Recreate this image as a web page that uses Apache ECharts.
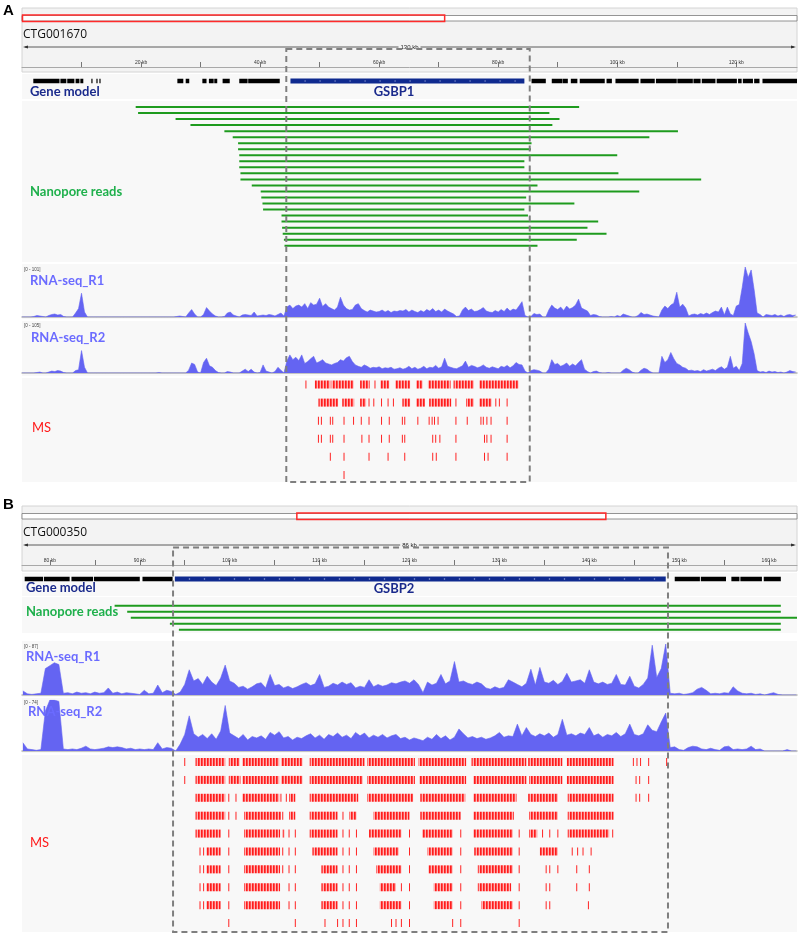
<!DOCTYPE html>
<html><head><meta charset="utf-8">
<script src="https://cdn.jsdelivr.net/npm/echarts@6/dist/echarts.min.js"></script>
<style>html,body{margin:0;padding:0;background:#fff}#c{width:800px;height:935px}</style>
</head><body><div id="c"></div>
<script>
// ================= DATA =================
const contigA = 'CTG001670', contigB = 'CTG000350';
const geneNameA = 'GSBP1', geneNameB = 'GSBP2';
const spanLabelA = '130 kb', spanLabelB = '86 kb';
const rangeA = [0, 130.2];
const rangeB = [76.9, 163.1];
const ideoA = [0, 0.546];
const ideoB = [0.354, 0.754];
const tickValsA = [10,20,30,40,50,60,70,80,90,100,110,120];
const labelValsA = [20,40,60,80,100,120];
const tickValsB = [80,85,90,95,100,105,110,115,120,125,130,135,140,145,150,155,160];
const labelValsB = [80,90,100,110,120,130,140,150,160];
const boxA = [44.4, 85.3];
const boxB = [93.7, 148.75];
const geneSpanA = [45.1, 84.4];
const geneSpanB = [93.9, 148.5];
const geneBlocksA = [[1.9,6.3],[6.45,7.45],[7.6,8.8],[9.0,9.65],[9.8,10.3],[11.65,11.85],[12.5,12.7],[13.0,13.2],
 [26.1,27.1],[27.5,28.1],[30.3,31.0],[31.4,32.2],[32.3,32.8],[33.7,34.9],[36.5,37.9],[38.0,43.3],
 [85.6,88.0],[89.0,90.8],[90.85,91.7],[92.2,93.3],[93.7,97.9],[98.2,99.1],[99.7,103.6],[103.9,106.3],
 [106.5,110.0],[110.1,112.7],[112.8,114.0],[114.2,116.5],[116.7,120.1],[120.3,120.9],[121.1,122.8],[123.0,123.9],[124.4,130.2]];
const geneBlocksB = [[77.2,79.25],[79.35,82.2],[82.4,84.8],[84.9,90.0],[90.3,93.65],
 [149.5,152.3],[152.4,155.2],[155.8,156.7],[156.8,159.2],[159.4,161.3]];
const readStartA = [19.1,19.5,25.8,28.3,34.0,35.4,36.3,36.3,36.5,36.5,36.5,36.7,36.7,38.6,40.1,40.2,40.4,40.5,43.6,43.6,43.7,43.8,44.0,44.1];
const readEndA   = [93.6,88.6,90.3,89.1,110.2,105.4,85.6,85.5,100.0,84.4,84.4,100.2,114.1,86.6,103.7,84.7,92.8,84.4,85.0,96.8,95.0,98.2,93.2,86.6];
const readStartB = [87.2,88.6,89.0,93.35,94.35];
const readEndB   = [161.3,161.3,163.1,161.3,161.3];
const covMaxA = [101, 105];
const covMaxB = [87, 74];
const covStartA = 0, covStartB = 77, covStep = 0.5;
const covA_R1 = [
 0,0,0,0,1,3,2,1,0,3,  5,6,4,5,1,0,0,0,8,17,  48,10,0,0,0,0,0,0,0,0,  0,0,0,0,0,0,0,0,0,0,
 0,0,0,0,0,0,0,0,0,0,  0,0,1,2,1,0,8,15,6,0,  0,5,19,12,6,2,0,0,1,8,  10,4,2,0,4,5,4,3,10,2,
 3,4,3,5,4,2,5,8,2,20,  24,17,22,24,20,27,17,29,24,26,  38,21,27,20,17,14,20,40,24,17,  14,15,24,27,17,13,10,14,12,10,
 11,14,10,13,9,12,11,13,12,15,  10,14,11,9,13,10,15,12,17,11,  14,10,16,12,9,6,1,2,14,20,  13,16,11,12,15,19,12,10,9,13,
 10,15,11,18,12,16,14,22,31,3,  0,1,7,5,6,0,0,14,24,18,  15,20,13,22,16,19,24,36,18,15,  12,3,5,4,1,0,0,0,1,0,
 3,1,6,4,2,0,0,3,9,5,  6,4,2,1,0,14,22,17,24,28,  50,20,26,18,2,5,6,4,7,5,  8,5,9,12,10,20,4,20,6,3,
 22,25,60,101,80,95,55,8,5,0,  5,4,3,5,2,4,1,4,5,3,  4];
const covA_R2 = [
 0,0,0,0,0,1,2,0,0,2,  4,3,5,4,1,0,0,0,5,7,  47,12,0,0,0,0,0,0,0,0,  0,0,0,0,0,0,0,0,0,0,
 0,0,0,0,0,0,1,0,0,0,  0,0,0,0,0,0,6,21,18,2,  0,22,31,15,12,5,1,0,0,3,  2,0,0,0,4,8,3,8,2,0,
 1,17,4,2,0,3,12,6,0,25,  38,28,33,26,38,20,24,30,35,21,  24,28,21,19,17,20,22,28,25,32,  35,24,17,14,12,17,14,10,12,11,
 13,9,11,10,12,8,9,11,8,10,  14,9,12,8,10,14,9,12,11,16,  10,13,31,14,12,10,9,12,15,25,  12,16,14,11,13,17,12,10,13,11,
 9,14,12,16,11,15,22,18,17,4,  0,5,7,6,4,0,0,8,28,18,  20,14,17,21,14,19,15,22,28,8,  3,0,3,4,1,0,0,1,0,0,
 0,0,6,10,7,2,0,0,6,10,  8,3,0,0,0,35,22,28,43,30,  20,17,12,10,5,6,4,5,3,7,  4,6,8,5,10,13,8,12,35,10,
 14,5,20,105,84,66,40,5,2,3,  1,4,2,3,1,2,0,2,5,3,  2];
const covB_R1 = [
 7,2,1,2,3,45,50,55,52,3,  4,2,5,3,4,2,5,3,4,12,  3,5,2,4,3,2,1,8,2,3,  17,4,8,6,1,5,18,43,24,28,
 18,32,22,16,29,51,24,20,13,15,  10,14,19,21,12,35,16,18,12,15,  11,14,18,21,16,19,35,13,15,20,  17,22,18,21,12,15,13,26,14,18,
 15,17,21,19,22,24,20,26,18,4,  22,17,20,35,19,24,57,22,24,20,  18,22,19,12,10,14,11,13,26,22,  18,14,20,44,17,47,22,20,25,18,
 23,37,22,24,26,20,43,22,19,22,  18,20,35,18,17,32,15,12,18,29,  85,30,45,87,3,2,3,1,2,4,  10,13,8,2,3,2,4,3,14,7,
 3,2,3,1,2,0,2,4,1,0,  0,0,0];
const covB_R2 = [
 12,3,2,1,2,58,74,74,72,3,  2,3,2,4,7,3,2,3,4,6,  5,6,5,3,4,2,3,2,3,2,  12,3,5,4,0,10,24,51,25,20,
 24,18,25,17,29,66,26,22,18,24,  16,21,19,22,17,27,23,28,19,21,  16,20,18,22,25,19,23,17,24,21,  26,20,23,18,27,22,26,19,23,20,
 24,19,22,24,18,20,16,19,17,15,  20,17,24,18,22,16,20,32,25,19,  21,18,20,17,19,22,27,20,22,21,  39,22,34,24,21,25,22,26,20,24,
 46,23,25,22,26,24,34,22,25,20,  24,22,27,21,25,39,24,22,25,38,  30,28,42,55,5,6,2,1,5,7,  6,3,2,4,2,1,6,7,2,3,
 2,3,7,2,3,0,0,0,0,0,  2,0,0];
const msRowsA = [
 [47.7,[49.2,51.8],[52.0,55.7],[56.8,58.4],59.3,[60.2,61.7],[62.7,65.2],[66.2,67.3],[68.2,72.0],[72.5,75.9],[76.8,83.4]],
 [[49.8,53.1],[53.8,55.8],[56.8,57.8],58.3,59.1,60.4,61.5,62.4,[63.9,65.2],[66.2,67.7],[68.4,72.1],72.9,[74.6,75.9],[76.8,78.9],79.6,80.2,81.5],
 [49.8,50.3,51.8,52.2,54.1,55.7,57.0,58.3,60.4,61.7,63.9,64.3,66.5,68.4,68.9,69.3,69.9,72.9,74.8,77.1,77.5,78.1,78.8,81.5],
 [49.8,50.3,51.8,52.2,54.1,57.1,58.3,60.4,61.7,63.9,64.3,69.0,69.5,70.2,72.9,77.7,78.1,78.8,81.5],
 [51.8,54.1,58.3,61.5,64.3,69.0,69.6,72.9,77.7,78.3,81.5],
 [54.1]
];
const msRowsB = [
 [95.0,[96.2,99.5],[99.9,101.1],[101.4,105.5],[105.7,108.1],[108.9,115.0],[115.3,120.6],[121.0,126.3],[126.9,133.0],[133.2,137.0],[137.5,142.7],144.9,145.3,145.7,146.6,148.6],
 [95.0,[96.2,99.5],[99.9,101.2],[101.4,105.5],[105.7,108.1],[108.9,114.8],[115.3,120.6],[121.1,126.3],[127.1,133.0],[133.3,137.0],[137.5,142.7],145.2,145.6,146.6],
 [[96.2,99.5],99.9,100.7,[101.4,105.5],105.7,106.3,[106.6,107.3],[108.9,114.3],[115.3,120.4],[121.2,126.2],[127.1,131.9],[133.2,136.5],[137.6,142.7],145.2,145.6,146.6],
 [[96.2,99.5],99.9,100.7,[101.6,105.7],105.9,[106.6,107.3],[108.9,112.0],112.6,[113.3,114.1],[116.0,120.0],[121.2,125.7],[127.1,131.6],[133.3,136.5],[137.6,142.7]],
 [[96.2,99.0],99.9,[101.6,105.6],[105.9,106.1],106.6,107.3,[108.9,112.0],112.6,113.3,114.1,[115.5,119.1],120.0,[121.4,124.8],125.7,[127.1,131.5],132.2,[133.3,134.2],134.8,135.6,136.5,[137.6,142.2],142.6],
 [96.7,97.1,[97.4,99.0],99.9,[101.6,105.6],105.9,106.6,107.3,[109.2,112.0],112.6,113.3,114.1,[116.0,118.8],120.0,[122.0,124.8],125.7,[127.2,131.5],132.2,[134.5,136.5],138.1,138.7,139.3,140.2],
 [96.7,97.1,[97.4,99.0],99.9,[101.6,105.6],105.9,106.6,107.3,[110.2,112.0],112.6,113.3,114.1,[116.3,119.1],120.0,[122.1,124.8],125.7,[127.6,131.5],132.2,135.2,135.6,136.5,138.6,140.0],
 [96.7,97.1,[97.4,99.0],99.9,[101.6,105.6],106.6,107.3,[110.2,112.0],112.6,113.3,114.1,[116.7,118.5],119.1,120.0,[122.7,124.8],125.7,[127.6,131.3],132.2,135.2,135.6,138.6,140.0],
 [96.7,97.1,[97.4,99.0],99.9,[101.6,105.6],106.6,107.3,[110.2,112.0],112.6,113.3,114.1,[116.7,119.1],120.0,[122.7,124.8],125.7,[128.0,131.5],132.2,135.2,135.6,139.9],
 [99.9,107.3,110.6,112.0,112.6,113.3,114.1,118.0,118.5,119.1,120.0,124.8,125.7,132.2]
];

// ================= BUILD =================
const COL = {navy:'#1a2a8c', gene:'#0f2a8f', green:'#1e9b1e', greenText:'#1fb04c', cov:'#6464f2', covText:'#6b6bff', red:'#ff2424', box:'#7f7f7f', bg:'#f8f8f8', head:'#f3f3f3'};
const chart = echarts.init(document.getElementById('c'), null, {renderer:'canvas'});

const layout = [
 {top:67,height:1},{top:76,height:10},{top:101,height:150.75},{top:267,height:50},{top:323,height:50},{top:378,height:104},
 {top:565,height:1},{top:574,height:10},{top:599,height:33},{top:644,height:51},{top:700,height:51},{top:756,height:176}
];
const grids = layout.map(g => Object.assign({left:22, right:3, show:false, containLabel:false, outerBoundsMode:'none'}, g));

function hiddenX(i, range){ return {gridIndex:i, type:'value', min:range[0], max:range[1], show:false, splitLine:{show:false}}; }
function baseX(i, range){ return {gridIndex:i, type:'value', min:range[0], max:range[1], axisLine:{show:true, onZero:false, lineStyle:{color:'#b4b4b4', width:1.5}}, axisTick:{show:false}, axisLabel:{show:false}, splitLine:{show:false}}; }
function rulerX(i, range, ticks, labels){ return {gridIndex:i, type:'value', min:range[0], max:range[1], position:'top',
  axisLine:{show:true, onZero:false, lineStyle:{color:'#a8a8a8', width:1}},
  axisTick:{show:true, inside:false, length:5, customValues:ticks, lineStyle:{color:'#555', width:0.8}},
  axisLabel:{show:true, customValues:labels, formatter:v => v + ' kb', fontSize:5, color:'#333', margin:2, fontFamily:'Liberation Sans'},
  splitLine:{show:false}}; }
const xAxes = [
 rulerX(0, rangeA, tickValsA, labelValsA), hiddenX(1, rangeA), hiddenX(2, rangeA), baseX(3, rangeA), baseX(4, rangeA), hiddenX(5, rangeA),
 rulerX(6, rangeB, tickValsB, labelValsB), hiddenX(7, rangeB), hiddenX(8, rangeB), baseX(9, rangeB), baseX(10, rangeB), hiddenX(11, rangeB)
];
function yA(i, min, max, inv){ return {gridIndex:i, type:'value', min:min, max:max, inverse:!!inv, show:false, splitLine:{show:false}}; }
const yAxes = [
 yA(0,0,1), yA(1,-1,1), yA(2,-1,24,true), yA(3,0,covMaxA[0]), yA(4,0,covMaxA[1]), yA(5,-0.36,5.39,true),
 yA(6,0,1), yA(7,-1,1), yA(8,-1.12,4.38,true), yA(9,0,covMaxB[0]), yA(10,0,covMaxB[1]), yA(11,-0.335,9.5,true)
];

// stripe pattern for dense peptide clusters
const pc = document.createElement('canvas'); pc.width = 3; pc.height = 10;
const pctx = pc.getContext('2d');
pctx.fillStyle = '#ff1c1c'; pctx.fillRect(0,0,1,10);
pctx.fillStyle = '#ff4d4d'; pctx.fillRect(1,0,1,10);
pctx.fillStyle = '#ffb4b4'; pctx.fillRect(2,0,1,10);
const stripe = {image: pc, repeat: 'repeat'};

function geneData(blocks, span){ const d = blocks.map(b => [b[0], b[1], 0]); d.push([span[0], span[1], 1]); return d; }
function geneRender(params, api){
  const s = api.value(0), e = api.value(1), t = api.value(2);
  const p1 = api.coord([s, 0]), p2 = api.coord([e, 0]);
  const h = t === 1 ? 5 : 4.5;
  const rect = {type:'rect', shape:{x:p1[0], y:p1[1]-h/2, width:Math.max(1, p2[0]-p1[0]), height:h}, style:{fill: t === 1 ? COL.gene : '#000'}};
  if (t !== 1) return rect;
  const ch = [rect];
  for (let x = p1[0] + 14; x < p2[0] - 4; x += 15) ch.push({type:'rect', shape:{x:x, y:p1[1]-0.6, width:1.3, height:1.2}, style:{fill:'#9aa8dc'}});
  return {type:'group', children:ch};
}
function readData(st, en){ return st.map((s, i) => [s, en[i], i]); }
function readRender(params, api){
  const p1 = api.coord([api.value(0), api.value(2)]), p2 = api.coord([api.value(1), api.value(2)]);
  return {type:'line', shape:{x1:p1[0], y1:p1[1], x2:p2[0], y2:p2[1]}, style:{stroke:COL.green, lineWidth:2}};
}
function msData(rows){ const d = []; rows.forEach((r, i) => r.forEach(v => { if (Array.isArray(v)) d.push([v[0], v[1], i]); else d.push([v, v, i]); })); return d; }
function msRender(params, api){
  const s = api.value(0), e = api.value(1), r = api.value(2);
  const p1 = api.coord([s, r]), p2 = api.coord([e, r]);
  const w = p2[0] - p1[0];
  if (w < 1.5) return {type:'rect', shape:{x:p1[0]-0.5, y:p1[1]-4, width:1, height:8}, style:{fill:COL.red}};
  return {type:'rect', shape:{x:p1[0], y:p1[1]-4, width:w, height:8}, style:{fill:stripe}};
}
function cov(arr, start){ return arr.map((v, i) => [start + i*covStep, v]); }
function covSeries(idx, arr, start){ return {type:'line', xAxisIndex:idx, yAxisIndex:idx, data:cov(arr, start), symbol:'none', silent:true,
  lineStyle:{width:0.6, color:COL.cov}, areaStyle:{color:COL.cov, opacity:1}, z:3}; }

const series = [
 {type:'custom', xAxisIndex:1, yAxisIndex:1, data:geneData(geneBlocksA, geneSpanA), renderItem:geneRender, silent:true},
 {type:'custom', xAxisIndex:2, yAxisIndex:2, data:readData(readStartA, readEndA), renderItem:readRender, silent:true},
 covSeries(3, covA_R1, covStartA), covSeries(4, covA_R2, covStartA),
 {type:'custom', xAxisIndex:5, yAxisIndex:5, data:msData(msRowsA), renderItem:msRender, silent:true},
 {type:'custom', xAxisIndex:7, yAxisIndex:7, data:geneData(geneBlocksB, geneSpanB), renderItem:geneRender, silent:true},
 {type:'custom', xAxisIndex:8, yAxisIndex:8, data:readData(readStartB, readEndB), renderItem:readRender, silent:true, clip:true},
 covSeries(9, covB_R1, covStartB), covSeries(10, covB_R2, covStartB),
 {type:'custom', xAxisIndex:11, yAxisIndex:11, data:msData(msRowsB), renderItem:msRender, silent:true}
];

chart.setOption({animation:false, backgroundColor:'#fff', grid:grids, xAxis:xAxes, yAxis:yAxes, series:series});

// ================= DECORATION (positions from the axes) =================
const G = [];
const FW = 775, FX = 22;
function rect(x, y, w, h, style, z){ G.push({type:'rect', shape:{x:x, y:y, width:w, height:h}, style:style, z:z||0, silent:true}); }
function text(x, y, t, font, fill, align, z){ G.push({type:'text', x:x, y:y, style:{text:t, font:font, fill:fill, textAlign:align||'left', textVerticalAlign:'middle'}, z:z||5, silent:true}); }
function header(y0, y1, ideo, contig, arrowY, span){
  rect(FX, y0, FW, y1 - y0, {fill:COL.head, stroke:'#d4d4d4', lineWidth:1});
  rect(FX, y0 + 7.5, FW, 5.5, {fill:'#fff', stroke:'#7a7a7a', lineWidth:0.8}, 1);
  rect(FX + ideo[0]*FW + 0.5, y0 + 7, (ideo[1]-ideo[0])*FW - 1, 6.5, {fill:'none', stroke:'#ff2a2a', lineWidth:1.5}, 2);
  text(23, y0 + 27, contig, '12px "Open Sans"', '#111');
  G.push({type:'line', shape:{x1:FX+3, y1:arrowY, x2:FX+FW-3, y2:arrowY}, style:{stroke:'#333', lineWidth:0.8}, z:2, silent:true});
  G.push({type:'polygon', shape:{points:[[FX+1,arrowY],[FX+6,arrowY-1.6],[FX+6,arrowY+1.6]]}, style:{fill:'#333'}, z:2, silent:true});
  G.push({type:'polygon', shape:{points:[[FX+FW-1,arrowY],[FX+FW-6,arrowY-1.6],[FX+FW-6,arrowY+1.6]]}, style:{fill:'#333'}, z:2, silent:true});
  G.push({type:'text', x:FX+FW/2, y:arrowY, style:{text:span, font:'6px "Liberation Sans"', fill:'#222', textAlign:'center', textVerticalAlign:'middle', backgroundColor:COL.head, padding:[0,2]}, z:3, silent:true});
}
// backgrounds
header(8, 72, ideoA, contigA, 47, spanLabelA);
header(506, 571, ideoB, contigB, 545, spanLabelB);
[[74,99],[101,262],[264,319],[321,376],[378,482],[573,596],[597,633],[641,697],[698,753],[755,932]].forEach(b => rect(FX, b[0], FW, b[1]-b[0], {fill:COL.bg}, -1));

// dashed boxes from the axis scales
function dashBox(axisIdx, box, top, bottom){
  const x1 = chart.convertToPixel({xAxisIndex:axisIdx}, box[0]);
  const x2 = chart.convertToPixel({xAxisIndex:axisIdx}, box[1]);
  G.push({type:'rect', shape:{x:x1, y:top, width:x2-x1, height:bottom-top}, style:{fill:'none', stroke:COL.box, lineWidth:2, lineDash:[6,4]}, z:50, silent:true});
}
dashBox(1, boxA, 49, 482);
dashBox(7, boxB, 547.5, 932);

// labels
const LB = 'bold 13px Lato';
text(3, 11, 'A', 'bold 15px "Liberation Sans"', '#000');
text(30, 92, 'Gene model', LB, COL.navy);
text(394, 92, geneNameA, LB, COL.navy, 'center');
text(30, 192, 'Nanopore reads', LB, COL.greenText);
text(24, 270, '[0 - ' + covMaxA[0] + ']', '4.5px "Liberation Sans"', '#444');
text(30, 281, 'RNA-seq_R1', LB, COL.covText);
text(24, 326, '[0 - ' + covMaxA[1] + ']', '4.5px "Liberation Sans"', '#444');
text(31, 338, 'RNA-seq_R2', LB, COL.covText);
text(32, 428, 'MS', '13px Lato', '#ff1a1a');

text(3, 505, 'B', 'bold 15px "Liberation Sans"', '#000');
text(26, 588, 'Gene model', LB, COL.navy);
text(394, 589, geneNameB, LB, COL.navy, 'center');
text(26, 612, 'Nanopore reads', LB, COL.greenText);
text(24, 647, '[0 - ' + covMaxB[0] + ']', '4.5px "Liberation Sans"', '#444');
text(26, 657, 'RNA-seq_R1', LB, COL.covText);
text(24, 703, '[0 - ' + covMaxB[1] + ']', '4.5px "Liberation Sans"', '#444');
text(28, 712, 'RNA-seq_R2', LB, COL.covText);
text(30, 843, 'MS', '13px Lato', '#ff1a1a');

chart.setOption({graphic:{elements:G}});
</script>
</body></html>
